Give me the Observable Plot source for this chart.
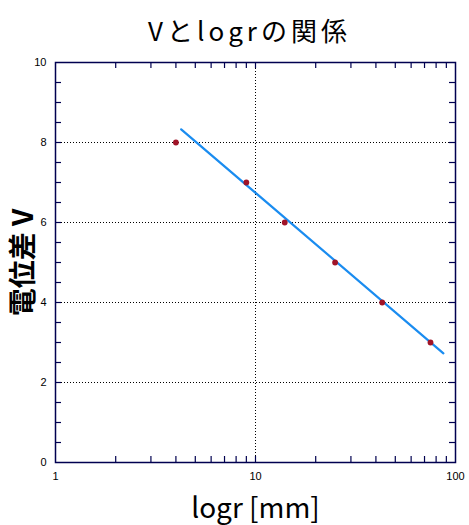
<!DOCTYPE html>
<html>
<head>
<meta charset="utf-8">
<script src="https://cdn.jsdelivr.net/npm/d3@7"></script>
<script src="https://cdn.jsdelivr.net/npm/@observablehq/plot@0.6"></script>
<style>
  body { margin: 0; background: #fff; }
  .title-text text { letter-spacing: 4px; }
</style>
</head>
<body>
<div id="chart"></div>
<script>
// Data
const radius = [4, 9, 14, 25, 43, 75];          // r [mm]
const voltage = [8, 7, 6, 5, 4, 3];             // V
const fitR = [4.25, 87];                        // fitted line end points (r)
const fitV = [8.33, 2.73];                      // fitted line end points (V)
const xTickLabels = [1, 10, 100];
const yTickLabels = [0, 2, 4, 6, 8, 10];
const xMinorTicks = [2,3,4,5,6,7,8,9,10,20,30,40,50,60,70,80,90];
const yMinorTicks = [0.5,1,1.5,2,2.5,3,3.5,4,4.5,5,5.5,6,6.5,7,7.5,8,8.5,9,9.5];
const titleText = "Vとlogrの関係";
const xLabel = "logr [mm]";
const yLabel = "電位差 V";

const points = radius.map((r, i) => ({r, v: voltage[i]}));
const fit = fitR.map((r, i) => ({r, v: fitV[i]}));

const W = 469, H = 525;
const mL = 55, mR = 14, mT = 62, mB = 63;
const fw = W - mL - mR, fh = H - mT - mB;
const tick = 6;
const navy = "#000050";

const chart = Plot.plot({
  width: W, height: H,
  marginLeft: mL, marginRight: mR, marginTop: mT, marginBottom: mB,
  style: {fontFamily: "Liberation Sans, Arial, sans-serif", fontSize: "11px", color: "black", background: "white"},
  x: {type: "log", domain: [1, 100], axis: null},
  y: {domain: [0, 10], axis: null},
  marks: [
    Plot.gridY([2, 4, 6, 8], {stroke: "black", strokeOpacity: 1, strokeDasharray: "1,2"}),
    Plot.gridX([10], {stroke: "black", strokeOpacity: 1, strokeDasharray: "1,2"}),
    Plot.tickY(yMinorTicks, {y: d => d, insetRight: fw - tick, stroke: navy, strokeWidth: 1.2}),
    Plot.tickY(yMinorTicks, {y: d => d, insetLeft: fw - tick, stroke: navy, strokeWidth: 1.2}),
    Plot.tickX(xMinorTicks, {x: d => d, insetTop: fh - tick, stroke: navy, strokeWidth: 1.2}),
    Plot.tickX(xMinorTicks, {x: d => d, insetBottom: fh - tick, stroke: navy, strokeWidth: 1.2}),
    Plot.axisX(xTickLabels, {tickSize: 0, tickPadding: 10, tickFormat: d => String(d), fontSize: 11, label: null}),
    Plot.axisY(yTickLabels, {tickSize: 0, tickPadding: 9, tickFormat: d => String(d), fontSize: 11, label: null}),
    Plot.frame({stroke: navy, strokeWidth: 1.5}),
    Plot.line(fit, {x: "r", y: "v", stroke: "#1a8cf0", strokeWidth: 2.2}),
    Plot.dot(points, {x: "r", y: "v", r: 2.9, fill: "#a01428", stroke: "none"}),
    Plot.text([titleText], {frameAnchor: "top", dx: -6, dy: -40, fontSize: 26, fontFamily: "Noto Sans CJK JP", fill: "black", className: "title-text"}),
    Plot.text([xLabel], {frameAnchor: "bottom", dy: 55, fontSize: 28, fontFamily: "Noto Sans CJK JP", fill: "black"}),
    Plot.text([yLabel], {frameAnchor: "left", textAnchor: "middle", dx: -31, rotate: -90, fontSize: 28, fontWeight: "bold", fontFamily: "Noto Sans CJK JP", fill: "black"})
  ]
});
document.getElementById("chart").appendChild(chart);
</script>
</body>
</html>
